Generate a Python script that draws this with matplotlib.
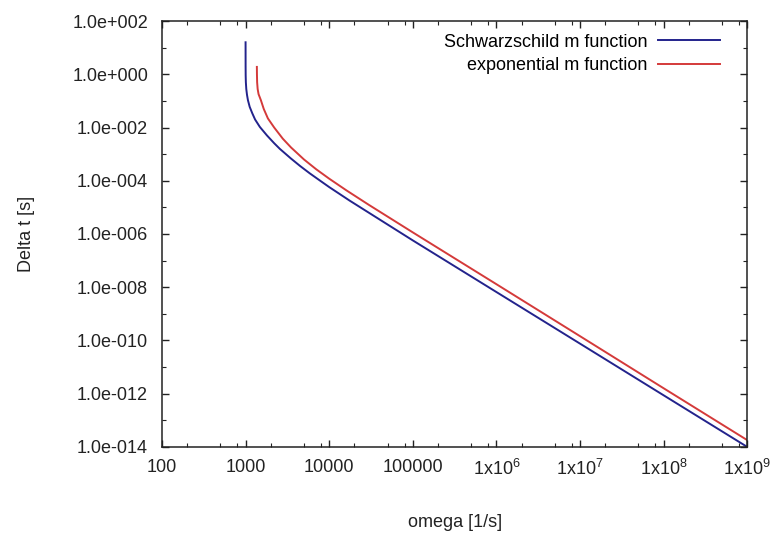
import matplotlib
matplotlib.use("Agg")
import matplotlib.pyplot as plt
from matplotlib.ticker import FixedLocator, FixedFormatter, LogLocator, NullFormatter

plt.rcParams['font.family'] = ['Liberation Sans', 'DejaVu Sans']
plt.rcParams['mathtext.fontset'] = 'custom'
plt.rcParams['mathtext.rm'] = 'Liberation Sans'
plt.rcParams['mathtext.default'] = 'regular'

# ========== Data ==========
omega_schw = [1000, 1001, 1003, 1008, 1020, 1040, 1067, 1120, 1200, 1300,
              1483, 1800, 2200, 2570, 3500, 4500, 5860, 8000, 1e4, 17600,
              1e5, 1e6, 1e7, 1e8, 1e9]
dt_schw = [16, 2.0, 0.9, 0.5, 0.28, 0.17, 0.107, 0.060, 0.035, 0.020,
           0.0105, 5.07e-3, 2.57e-3, 1.58e-3, 6.8e-4, 3.57e-4, 1.9e-4, 9.5e-5, 5.8e-5, 1.79e-5,
           5.75e-7, 6.6e-9, 7.6e-11, 8.7e-13, 1.0e-14]

omega_exp = [1365, 1368, 1375, 1395, 1430, 1524, 1650, 1850, 2200, 2790,
             3500, 5000, 7000, 1e4, 16000, 3e4, 1e5, 1e6, 1e7, 1e8, 1e9]
dt_exp = [1.9, 1.0, 0.5, 0.28, 0.18, 0.107, 0.050, 0.022, 0.010, 3.8e-3,
          1.78e-3, 6.3e-4, 2.7e-4, 1.2e-4, 4.4e-5, 1.23e-5, 1.15e-6, 1.3e-8, 1.45e-10, 1.6e-12, 1.8e-14]

x_ticks = [1e2, 1e3, 1e4, 1e5, 1e6, 1e7, 1e8, 1e9]
x_labels = ["100", "1000", "10000", "100000",
            "1x10$^{6}$", "1x10$^{7}$", "1x10$^{8}$", "1x10$^{9}$"]
y_exps = [2, 0, -2, -4, -6, -8, -10, -12, -14]
y_labels = ["1.0e+002", "1.0e+000", "1.0e-002", "1.0e-004", "1.0e-006",
            "1.0e-008", "1.0e-010", "1.0e-012", "1.0e-014"]

# ========== Plot ==========
fig = plt.figure(figsize=(7.84, 5.41), dpi=100)
ax = fig.add_axes([0.2066, 0.174, 0.7464, 0.787])

ax.plot(omega_schw, dt_schw, color="#23238c", lw=1.4, label="Schwarzschild m function")
ax.plot(omega_exp, dt_exp, color="#d43a3a", lw=1.4, label="exponential m function")

ax.set_xscale("log")
ax.set_yscale("log")
ax.set_xlim(1e2, 1e9)
ax.set_ylim(1e-14, 1e2)

ax.xaxis.set_major_locator(FixedLocator(x_ticks))
ax.xaxis.set_major_formatter(FixedFormatter(x_labels))
ax.xaxis.set_minor_locator(LogLocator(base=10, subs=(2, 5, 8), numticks=50))
ax.xaxis.set_minor_formatter(NullFormatter())

ax.yaxis.set_major_locator(FixedLocator([10.0 ** e for e in y_exps]))
ax.yaxis.set_major_formatter(FixedFormatter(y_labels))
ax.yaxis.set_minor_locator(FixedLocator([10.0 ** (e - 1) for e in y_exps[:-1]]))
ax.yaxis.set_minor_formatter(NullFormatter())

ax.tick_params(which="both", direction="in", top=True, right=True, colors="#222222")
ax.tick_params(which="major", length=5, width=1, labelsize=13)
ax.tick_params(axis="x", which="major", pad=9)
ax.tick_params(axis="y", which="major", pad=10)
ax.tick_params(which="minor", length=3, width=0.8)
for s in ax.spines.values():
    s.set_linewidth(1.1)
    s.set_color("#222222")

ax.set_xlabel("omega [1/s]", fontsize=13, color="#222222", labelpad=25)
ax.set_ylabel("Delta t [s]", fontsize=13, color="#222222", labelpad=27)

ax.legend(loc="upper right", frameon=False, markerfirst=False, fontsize=13,
          handlelength=3.4, handletextpad=0.6, labelspacing=0.35,
          borderaxespad=0.3, bbox_to_anchor=(0.975, 1.0))

fig.savefig("out.png", dpi=100)
